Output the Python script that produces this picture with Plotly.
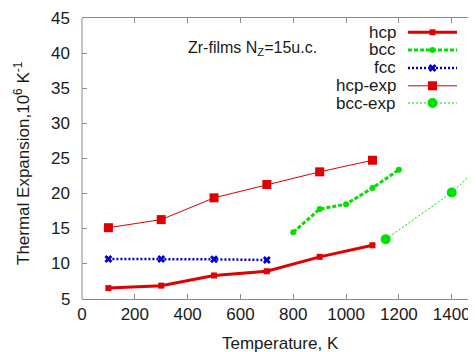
import plotly.graph_objects as go

# ---- data ----
T_hcp = [100, 300, 500, 700, 900, 1100]
a_hcp = [6.55, 6.9, 8.35, 8.95, 11.0, 12.65]

T_bcc = [800, 900, 1000, 1100, 1200]
a_bcc = [14.5, 17.8, 18.5, 20.8, 23.4]

T_fcc = [100, 300, 500, 700]
a_fcc = [10.7, 10.7, 10.65, 10.55]

T_hcp_exp = [100, 300, 500, 700, 900, 1100]
a_hcp_exp = [15.15, 16.3, 19.4, 21.3, 23.1, 24.75]

T_bcc_exp = [1150, 1400, 1600]
a_bcc_exp = [13.5, 20.15, 27.2]

x_ticks = [0, 200, 400, 600, 800, 1000, 1200, 1400]
y_ticks = [5, 10, 15, 20, 25, 30, 35, 40, 45]

names = ["hcp", "bcc", "fcc", "hcp-exp", "bcc-exp"]

RED = "#e00000"
GREEN = "#00e000"
BLUE = "#0000cc"
FONT = "Liberation Sans, Arial, sans-serif"
TXT = "#1a1a1a"
AX = "#8a8a8a"

styles = {
    "hcp": dict(line=dict(color=RED, width=3), marker=dict(symbol="square", size=6, color=RED)),
    "bcc": dict(line=dict(color=GREEN, width=3, dash="4px,2px"), marker=dict(symbol="circle", size=6, color=GREEN)),
    "fcc": dict(line=dict(color=BLUE, width=2.5, dash="2px,2px"), marker=dict(symbol="x", size=7, color=BLUE, line=dict(width=0))),
    "hcp-exp": dict(line=dict(color=RED, width=1), marker=dict(symbol="square", size=9, color=RED)),
    "bcc-exp": dict(line=dict(color=GREEN, width=1, dash="2px,2px"), marker=dict(symbol="circle", size=10, color=GREEN)),
}
series = {
    "hcp": (T_hcp, a_hcp),
    "bcc": (T_bcc, a_bcc),
    "fcc": (T_fcc, a_fcc),
    "hcp-exp": (T_hcp_exp, a_hcp_exp),
    "bcc-exp": (T_bcc_exp, a_bcc_exp),
}

fig = go.Figure()
for n in names:
    xs, ys = series[n]
    fig.add_trace(go.Scatter(x=xs, y=ys, mode="lines+markers", name=n,
                             showlegend=False, **styles[n]))

# ---- layout geometry (window pixels; page body has an 8px margin) ----
OFF = 8
WIN_W, WIN_H = 476, 352
PL, PR, PT, PB = 82, 476, 18, 299   # plot area in window pixels
W, H = WIN_W - OFF, WIN_H - OFF


def px(wx):
    return (wx - PL) / (PR - PL)


def py(wy):
    return (PB - wy) / (PB - PT)


# ---- custom legend (text left, sample right) on a pixel-space overlay axis ----
leg_rows = [32.3, 50.0, 68.0, 85.8, 103.0]
leg_x0, leg_x1, leg_text_right = 408, 457, 398
for n, yy in zip(names, leg_rows):
    st = styles[n]
    fig.add_trace(go.Scatter(x=[leg_x0, leg_x1], y=[yy, yy], mode="lines",
                             line=st["line"], xaxis="x2", yaxis="y2",
                             showlegend=False, hoverinfo="skip", cliponaxis=False))
    fig.add_trace(go.Scatter(x=[(leg_x0 + leg_x1) / 2], y=[yy], mode="markers",
                             marker=st["marker"], xaxis="x2", yaxis="y2",
                             showlegend=False, hoverinfo="skip", cliponaxis=False))
    fig.add_annotation(x=px(leg_text_right), y=py(yy), xref="paper", yref="paper", text=n,
                       showarrow=False, xanchor="right", yanchor="middle", height=17,
                       font=dict(family=FONT, size=17, color=TXT))

# y tick labels (placed at the y-axis values, 10px left of the axis)
for v in y_ticks:
    fig.add_annotation(x=px(PL - 10), y=v, xref="paper", yref="y", text=str(v),
                       showarrow=False, xanchor="right", yanchor="middle",
                       font=dict(family=FONT, size=17, color=TXT))

fig.add_annotation(x=px(186), y=py(49), xref="paper", yref="paper",
                   text="Zr-films N<sub>Z</sub>=15u.c.", showarrow=False,
                   xanchor="left", yanchor="middle",
                   font=dict(family=FONT, size=16, color=TXT))

# axis titles
fig.add_annotation(x=px(280), y=py(343), xref="paper", yref="paper", text="Temperature, K",
                   showarrow=False, xanchor="center", yanchor="middle",
                   font=dict(family=FONT, size=17, color=TXT))
fig.add_annotation(x=px(22), y=py(163), xref="paper", yref="paper",
                   text="Thermal Expansion,10<sup>6</sup> K<sup>-1</sup>",
                   showarrow=False, textangle=-90, xanchor="center", yanchor="middle",
                   font=dict(family=FONT, size=17, color=TXT))

# left border line
fig.add_shape(type="line", xref="paper", yref="paper", x0=0, x1=0, y0=0, y1=1,
              line=dict(color=AX, width=1))

fig.update_layout(
    width=W, height=H,
    margin=dict(l=PL - OFF, r=WIN_W - PR, t=PT - OFF, b=WIN_H - PB, pad=0),
    paper_bgcolor="white", plot_bgcolor="white",
    font=dict(family=FONT, size=17, color=TXT),
    xaxis=dict(range=[0, 1492], tickvals=x_ticks, ticks="inside", ticklen=5,
               tickcolor=AX, showline=True, linecolor=AX, mirror="ticks",
               showgrid=False, zeroline=False,
               tickfont=dict(size=17, color=TXT)),
    yaxis=dict(range=[5, 45], tickvals=y_ticks, ticks="inside", ticklen=5,
               tickcolor=AX, showline=False, mirror="ticks",
               showgrid=False, zeroline=False, showticklabels=False),
    xaxis2=dict(range=[PL, PR], overlaying="x", anchor="y2", visible=False,
                domain=[0, 1]),
    yaxis2=dict(range=[PB, PT], overlaying="y", anchor="x2", visible=False),
)

fig.write_html("out.html")
